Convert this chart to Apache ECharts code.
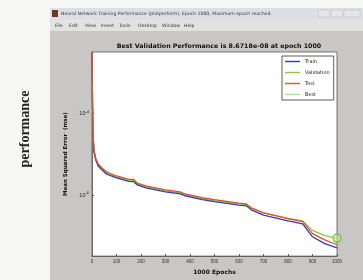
<!DOCTYPE html>
<html>
<head>
<meta charset="utf-8">
<script src="https://cdn.jsdelivr.net/npm/echarts@6/dist/echarts.min.js"></script>
<style>
  html, body { margin: 0; padding: 0; background: #f6f6f4; }
  #chart { width: 363px; height: 280px; }
</style>
</head>
<body>
<div id="chart"></div>
<script>
var epochs = [0, 2, 4, 8, 15, 25, 40, 60, 100, 150, 170, 185, 220, 300, 360, 380, 450, 500, 600, 630, 650, 700, 800, 860, 880, 900, 950, 1000];
var trainMse = [3.1e-3, 2.1e-4, 3.0e-5, 1.15e-5, 7.2e-6, 5.1e-6, 4.1e-6, 3.2e-6, 2.6e-6, 2.15e-6, 2.1e-6, 1.75e-6, 1.48e-6, 1.18e-6, 1.06e-6, 9.4e-7, 7.6e-7, 6.8e-7, 5.6e-7, 5.4e-7, 4.3e-7, 3.2e-7, 2.3e-7, 1.95e-7, 1.35e-7, 9.4e-8, 6.4e-8, 5.0e-8];
var validMse = [3.15e-3, 2.2e-4, 3.1e-5, 1.2e-5, 7.6e-6, 5.4e-6, 4.3e-6, 3.4e-6, 2.75e-6, 2.3e-6, 2.25e-6, 1.85e-6, 1.57e-6, 1.25e-6, 1.12e-6, 1.0e-6, 8.0e-7, 7.2e-7, 6.0e-7, 5.8e-7, 4.7e-7, 3.6e-7, 2.65e-7, 2.3e-7, 1.75e-7, 1.35e-7, 1.0e-7, 8.6718e-8];
var testMse = [3.2e-3, 2.3e-4, 3.3e-5, 1.26e-5, 8.0e-6, 5.7e-6, 4.6e-6, 3.6e-6, 2.9e-6, 2.4e-6, 2.4e-6, 1.95e-6, 1.66e-6, 1.32e-6, 1.18e-6, 1.05e-6, 8.5e-7, 7.6e-7, 6.3e-7, 6.0e-7, 4.8e-7, 3.6e-7, 2.6e-7, 2.2e-7, 1.58e-7, 1.12e-7, 7.9e-8, 6.0e-8];
var bestEpoch = 1000;
var bestValue = 8.6718e-8;
var yTicks = [1e-4, 1e-6];
var yTickExps = ['-4', '-6'];
var menuItems = ['File', 'Edit', 'View', 'Insert', 'Tools', 'Desktop', 'Window', 'Help'];
var menuX = [55, 69, 85, 101, 119, 138, 162, 184];

function pairs(ys) {
  return epochs.map(function (e, i) { return [e, ys[i]]; });
}

var chart = echarts.init(document.getElementById('chart'));

var chrome = [
  // window body
  { type: 'rect', shape: { x: 50, y: 8, width: 313, height: 272 }, style: { fill: '#c8c7c5' }, z: -10 },
  // title bar
  { type: 'rect', shape: { x: 50, y: 8, width: 313, height: 12 }, style: { fill: '#dcdfe3' }, z: -9 },
  { type: 'rect', shape: { x: 52, y: 10, width: 6, height: 7 }, style: { fill: '#6b3a24' }, z: -8 },
  { type: 'text', x: 61, y: 14, style: { text: 'Neural Network Training Performance (plotperform), Epoch 1000, Maximum epoch reached.', font: '4.6px "DejaVu Sans"', fill: '#333', verticalAlign: 'middle' }, z: -8 },
  { type: 'rect', shape: { x: 318, y: 10, width: 12, height: 7 }, style: { fill: '#e4e6e8', stroke: '#b8b8b8', lineWidth: 0.5 }, z: -8 },
  { type: 'rect', shape: { x: 331, y: 10, width: 12, height: 7 }, style: { fill: '#e4e6e8', stroke: '#b8b8b8', lineWidth: 0.5 }, z: -8 },
  { type: 'rect', shape: { x: 344, y: 10, width: 16, height: 7 }, style: { fill: '#e4e6e8', stroke: '#b8b8b8', lineWidth: 0.5 }, z: -8 },
  // menu bar
  { type: 'rect', shape: { x: 50, y: 20, width: 313, height: 11 }, style: { fill: '#e2e2e0' }, z: -9 },
  // page label
  { type: 'text', x: 25, y: 129, rotation: Math.PI / 2, style: { text: 'performance', font: 'bold 14px "Liberation Serif"', fill: '#222', align: 'center', verticalAlign: 'middle' } }
];
menuItems.forEach(function (m, i) {
  chrome.push({ type: 'text', x: menuX[i], y: 26, style: { text: m, font: '4.6px "DejaVu Sans"', fill: '#333', verticalAlign: 'middle' }, z: -8 });
});

var thin = { width: 1.3 };
var lineIcon = 'rect';

chart.setOption({
  backgroundColor: '#f6f6f4',
  animation: false,
  title: {
    text: 'Best Validation Performance is 8.6718e-08 at epoch 1000',
    left: 214, top: 38, textAlign: 'center',
    textStyle: { fontSize: 6.3, fontWeight: 'bold', color: '#111', fontFamily: 'DejaVu Sans' }
  },
  graphic: chrome,
  legend: {
    orient: 'vertical', left: 282, top: 56,
    backgroundColor: '#fff', borderColor: '#333', borderWidth: 0.8, padding: [3, 4, 3, 3],
    itemWidth: 15, itemHeight: 1.4, itemGap: 6,
    textStyle: { fontSize: 5, color: '#222', fontFamily: 'DejaVu Sans' },
    data: [
      { name: 'Train', icon: lineIcon },
      { name: 'Validation', icon: lineIcon },
      { name: 'Test', icon: lineIcon },
      { name: 'Best', icon: lineIcon, itemStyle: { color: '#b9d99a', borderWidth: 0 } }
    ]
  },
  grid: { left: 92, right: 26, top: 52, bottom: 21, show: true, backgroundColor: '#fff', borderColor: '#555', borderWidth: 0.8 },
  xAxis: {
    type: 'value', min: 0, max: 1000, interval: 100,
    name: '1000 Epochs', nameLocation: 'middle', nameGap: 11,
    nameTextStyle: { fontSize: 6, fontWeight: 'bold', color: '#111', fontFamily: 'DejaVu Sans' },
    axisLine: { lineStyle: { color: '#555', width: 0.8 } },
    axisTick: { inside: true, length: 2, lineStyle: { color: '#555' } },
    axisLabel: { fontSize: 4.5, color: '#333', margin: 3, formatter: function (v) { return String(v); } },
    splitLine: { show: false }
  },
  yAxis: {
    type: 'log', logBase: 10, min: 3.16e-8, max: 3.16e-3,
    name: 'Mean Squared Error  (mse)', nameLocation: 'middle', nameGap: 13, nameRotate: 90,
    nameTextStyle: { fontSize: 5.5, fontWeight: 'bold', color: '#111', fontFamily: 'DejaVu Sans' },
    axisLine: { show: true, lineStyle: { color: '#555', width: 0.8 } },
    axisTick: { inside: true, length: 2, customValues: yTicks, lineStyle: { color: '#555' } },
    axisLabel: {
      color: '#222', margin: 3, customValues: yTicks,
      formatter: function (v) {
        var i = yTicks.findIndex(function (t) { return Math.abs(Math.log10(t) - Math.log10(v)) < 0.01; });
        return i >= 0 ? '{b|10}{s|' + yTickExps[i] + '}' : '';
      },
      rich: {
        b: { fontSize: 5.5, color: '#222', verticalAlign: 'bottom', lineHeight: 7 },
        s: { fontSize: 4, color: '#222', verticalAlign: 'top', lineHeight: 7, padding: [0, 0, 3, 0] }
      }
    },
    splitLine: { show: false }
  },
  series: [
    { name: 'Train', type: 'line', data: pairs(trainMse), showSymbol: false, symbol: 'none', color: '#2b3fbf', lineStyle: thin, z: 4 },
    { name: 'Validation', type: 'line', data: pairs(validMse), showSymbol: false, symbol: 'none', color: '#8dc63f', lineStyle: thin, z: 3 },
    { name: 'Test', type: 'line', data: pairs(testMse), showSymbol: false, symbol: 'none', color: '#e5502a', lineStyle: thin, z: 5 },
    {
      name: 'Best', type: 'line', data: [[bestEpoch, bestValue]],
      symbol: 'circle', symbolSize: 8, color: '#8dc63f',
      itemStyle: { color: 'rgba(200,235,170,0.5)', borderColor: '#7cbf3a', borderWidth: 1.2 },
      lineStyle: { type: 'dotted', width: 1 }, z: 6,
      markLine: {
        silent: true, symbol: 'none', label: { show: false },
        lineStyle: { color: '#b9c9a6', type: 'solid', width: 0.8 },
        data: [{ yAxis: bestValue }]
      }
    }
  ]
});
</script>
</body>
</html>
